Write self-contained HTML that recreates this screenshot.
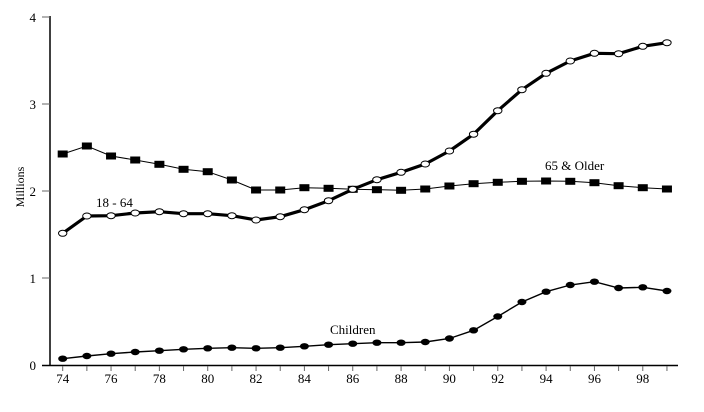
<!DOCTYPE html>
<html><head><meta charset="utf-8"><style>
html,body{margin:0;padding:0;background:#fff;}
svg{display:block;}
text{font-family:"Liberation Serif","Times New Roman",serif;fill:#000;}
</style></head><body>
<svg width="704" height="412" viewBox="0 0 704 412" xmlns="http://www.w3.org/2000/svg" font-family="Liberation Serif, serif">
<!-- axes -->
<line x1="50" y1="16" x2="50" y2="366" stroke="#000" stroke-width="1.5"/>
<line x1="42" y1="365.5" x2="678" y2="365.5" stroke="#000" stroke-width="1.5"/>
<g stroke="#666" stroke-width="1">
<line x1="42" y1="17" x2="50" y2="17"/>
<line x1="42" y1="104" x2="50" y2="104"/>
<line x1="42" y1="191" x2="50" y2="191"/>
<line x1="42" y1="278" x2="50" y2="278"/>
<line x1="62.7" y1="366" x2="62.7" y2="371"/><line x1="86.87" y1="366" x2="86.87" y2="371"/><line x1="111.04" y1="366" x2="111.04" y2="371"/><line x1="135.21" y1="366" x2="135.21" y2="371"/><line x1="159.38" y1="366" x2="159.38" y2="371"/><line x1="183.55" y1="366" x2="183.55" y2="371"/><line x1="207.72" y1="366" x2="207.72" y2="371"/><line x1="231.89" y1="366" x2="231.89" y2="371"/><line x1="256.06" y1="366" x2="256.06" y2="371"/><line x1="280.23" y1="366" x2="280.23" y2="371"/><line x1="304.4" y1="366" x2="304.4" y2="371"/><line x1="328.57" y1="366" x2="328.57" y2="371"/><line x1="352.74" y1="366" x2="352.74" y2="371"/><line x1="376.91" y1="366" x2="376.91" y2="371"/><line x1="401.08" y1="366" x2="401.08" y2="371"/><line x1="425.25" y1="366" x2="425.25" y2="371"/><line x1="449.42" y1="366" x2="449.42" y2="371"/><line x1="473.59" y1="366" x2="473.59" y2="371"/><line x1="497.76" y1="366" x2="497.76" y2="371"/><line x1="521.93" y1="366" x2="521.93" y2="371"/><line x1="546.1" y1="366" x2="546.1" y2="371"/><line x1="570.27" y1="366" x2="570.27" y2="371"/><line x1="594.44" y1="366" x2="594.44" y2="371"/><line x1="618.61" y1="366" x2="618.61" y2="371"/><line x1="642.78" y1="366" x2="642.78" y2="371"/><line x1="666.95" y1="366" x2="666.95" y2="371"/>
</g>
<!-- y labels -->
<g font-size="13" text-anchor="end" font-family="Liberation Serif, serif">
<text x="36" y="22">4</text>
<text x="36" y="109">3</text>
<text x="36" y="196">2</text>
<text x="36" y="283">1</text>
<text x="36" y="370">0</text>
</g>
<text x="0" y="0" font-size="12" font-family="Liberation Serif, serif" text-anchor="middle" transform="translate(24,187) rotate(-90)">Millions</text>
<!-- x labels -->
<g font-size="13" text-anchor="middle" font-family="Liberation Serif, serif">
<text x="62.7" y="383">74</text>
<text x="111.04" y="383">76</text>
<text x="159.38" y="383">78</text>
<text x="207.72" y="383">80</text>
<text x="256.06" y="383">82</text>
<text x="304.4" y="383">84</text>
<text x="352.74" y="383">86</text>
<text x="401.08" y="383">88</text>
<text x="449.42" y="383">90</text>
<text x="497.76" y="383">92</text>
<text x="546.1" y="383">94</text>
<text x="594.44" y="383">96</text>
<text x="642.78" y="383">98</text>
</g>
<!-- series labels -->
<g font-size="13" font-family="Liberation Serif, serif">
<text x="96" y="207">18 - 64</text>
<text x="545" y="170">65 &amp; Older</text>
<text x="330" y="334">Children</text>
</g>

<!-- 65 & older -->
<polyline fill="none" stroke="#000" stroke-width="1" points="62.7,154 86.87,146 111.04,156 135.21,160 159.38,164.3 183.55,169.3 207.72,171.7 231.89,180 256.06,190 280.23,190 304.4,187.7 328.57,188.3 352.74,189.3 376.91,189.7 401.08,190.3 425.25,189 449.42,186 473.59,183.7 497.76,182.3 521.93,181.3 546.1,181 570.27,181.3 594.44,182.7 618.61,185.7 642.78,187.7 666.95,189"/>
<g fill="#000">
<rect x="57.7" y="150.5" width="10" height="7"/><rect x="81.87" y="142.5" width="10" height="7"/><rect x="106.04" y="152.5" width="10" height="7"/><rect x="130.21" y="156.5" width="10" height="7"/><rect x="154.38" y="160.8" width="10" height="7"/><rect x="178.55" y="165.8" width="10" height="7"/><rect x="202.72" y="168.2" width="10" height="7"/><rect x="226.89" y="176.5" width="10" height="7"/><rect x="251.06" y="186.5" width="10" height="7"/><rect x="275.23" y="186.5" width="10" height="7"/><rect x="299.4" y="184.2" width="10" height="7"/><rect x="323.57" y="184.8" width="10" height="7"/><rect x="347.74" y="185.8" width="10" height="7"/><rect x="371.91" y="186.2" width="10" height="7"/><rect x="396.08" y="186.8" width="10" height="7"/><rect x="420.25" y="185.5" width="10" height="7"/><rect x="444.42" y="182.5" width="10" height="7"/><rect x="468.59" y="180.2" width="10" height="7"/><rect x="492.76" y="178.8" width="10" height="7"/><rect x="516.93" y="177.8" width="10" height="7"/><rect x="541.1" y="177.5" width="10" height="7"/><rect x="565.27" y="177.8" width="10" height="7"/><rect x="589.44" y="179.2" width="10" height="7"/><rect x="613.61" y="182.2" width="10" height="7"/><rect x="637.78" y="184.2" width="10" height="7"/><rect x="661.95" y="185.5" width="10" height="7"/>
</g>

<!-- 18 - 64 -->
<polyline fill="none" stroke="#000" stroke-width="3.2" stroke-linejoin="round" points="62.7,233.3 86.87,216 111.04,215.7 135.21,213 159.38,211.7 183.55,213.7 207.72,213.7 231.89,215.7 256.06,220 280.23,216.7 304.4,209.7 328.57,200.7 352.74,189.3 376.91,179.7 401.08,172.3 425.25,164 449.42,151 473.59,134.2 497.76,110.7 521.93,89.7 546.1,73.3 570.27,61 594.44,53.3 618.61,53.7 642.78,46.3 666.95,42.7"/>
<g fill="#fff" stroke="#000" stroke-width="1">
<ellipse cx="62.7" cy="233.3" rx="4.2" ry="3"/><ellipse cx="86.87" cy="216" rx="4.2" ry="3"/><ellipse cx="111.04" cy="215.7" rx="4.2" ry="3"/><ellipse cx="135.21" cy="213" rx="4.2" ry="3"/><ellipse cx="159.38" cy="211.7" rx="4.2" ry="3"/><ellipse cx="183.55" cy="213.7" rx="4.2" ry="3"/><ellipse cx="207.72" cy="213.7" rx="4.2" ry="3"/><ellipse cx="231.89" cy="215.7" rx="4.2" ry="3"/><ellipse cx="256.06" cy="220" rx="4.2" ry="3"/><ellipse cx="280.23" cy="216.7" rx="4.2" ry="3"/><ellipse cx="304.4" cy="209.7" rx="4.2" ry="3"/><ellipse cx="328.57" cy="200.7" rx="4.2" ry="3"/><ellipse cx="352.74" cy="189.3" rx="4.2" ry="3"/><ellipse cx="376.91" cy="179.7" rx="4.2" ry="3"/><ellipse cx="401.08" cy="172.3" rx="4.2" ry="3"/><ellipse cx="425.25" cy="164" rx="4.2" ry="3"/><ellipse cx="449.42" cy="151" rx="4.2" ry="3"/><ellipse cx="473.59" cy="134.2" rx="4.2" ry="3"/><ellipse cx="497.76" cy="110.7" rx="4.2" ry="3"/><ellipse cx="521.93" cy="89.7" rx="4.2" ry="3"/><ellipse cx="546.1" cy="73.3" rx="4.2" ry="3"/><ellipse cx="570.27" cy="61" rx="4.2" ry="3"/><ellipse cx="594.44" cy="53.3" rx="4.2" ry="3"/><ellipse cx="618.61" cy="53.7" rx="4.2" ry="3"/><ellipse cx="642.78" cy="46.3" rx="4.2" ry="3"/><ellipse cx="666.95" cy="42.7" rx="4.2" ry="3"/>
</g>

<!-- Children -->
<polyline fill="none" stroke="#000" stroke-width="1.4" points="62.7,358.7 86.87,356 111.04,353.7 135.21,352 159.38,350.7 183.55,349.3 207.72,348.3 231.89,347.7 256.06,348.3 280.23,347.7 304.4,346.3 328.57,344.7 352.74,343.7 376.91,342.7 401.08,342.7 425.25,342 449.42,338.5 473.59,330.3 497.76,316.5 521.93,302 546.1,291.7 570.27,285 594.44,281.7 618.61,288 642.78,287.3 666.95,291"/>
<g fill="#000">
<ellipse cx="62.7" cy="358.7" rx="4.5" ry="3.2"/><ellipse cx="86.87" cy="356" rx="4.5" ry="3.2"/><ellipse cx="111.04" cy="353.7" rx="4.5" ry="3.2"/><ellipse cx="135.21" cy="352" rx="4.5" ry="3.2"/><ellipse cx="159.38" cy="350.7" rx="4.5" ry="3.2"/><ellipse cx="183.55" cy="349.3" rx="4.5" ry="3.2"/><ellipse cx="207.72" cy="348.3" rx="4.5" ry="3.2"/><ellipse cx="231.89" cy="347.7" rx="4.5" ry="3.2"/><ellipse cx="256.06" cy="348.3" rx="4.5" ry="3.2"/><ellipse cx="280.23" cy="347.7" rx="4.5" ry="3.2"/><ellipse cx="304.4" cy="346.3" rx="4.5" ry="3.2"/><ellipse cx="328.57" cy="344.7" rx="4.5" ry="3.2"/><ellipse cx="352.74" cy="343.7" rx="4.5" ry="3.2"/><ellipse cx="376.91" cy="342.7" rx="4.5" ry="3.2"/><ellipse cx="401.08" cy="342.7" rx="4.5" ry="3.2"/><ellipse cx="425.25" cy="342" rx="4.5" ry="3.2"/><ellipse cx="449.42" cy="338.5" rx="4.5" ry="3.2"/><ellipse cx="473.59" cy="330.3" rx="4.5" ry="3.2"/><ellipse cx="497.76" cy="316.5" rx="4.5" ry="3.2"/><ellipse cx="521.93" cy="302" rx="4.5" ry="3.2"/><ellipse cx="546.1" cy="291.7" rx="4.5" ry="3.2"/><ellipse cx="570.27" cy="285" rx="4.5" ry="3.2"/><ellipse cx="594.44" cy="281.7" rx="4.5" ry="3.2"/><ellipse cx="618.61" cy="288" rx="4.5" ry="3.2"/><ellipse cx="642.78" cy="287.3" rx="4.5" ry="3.2"/><ellipse cx="666.95" cy="291" rx="4.5" ry="3.2"/>
</g>
</svg>
</body></html>
